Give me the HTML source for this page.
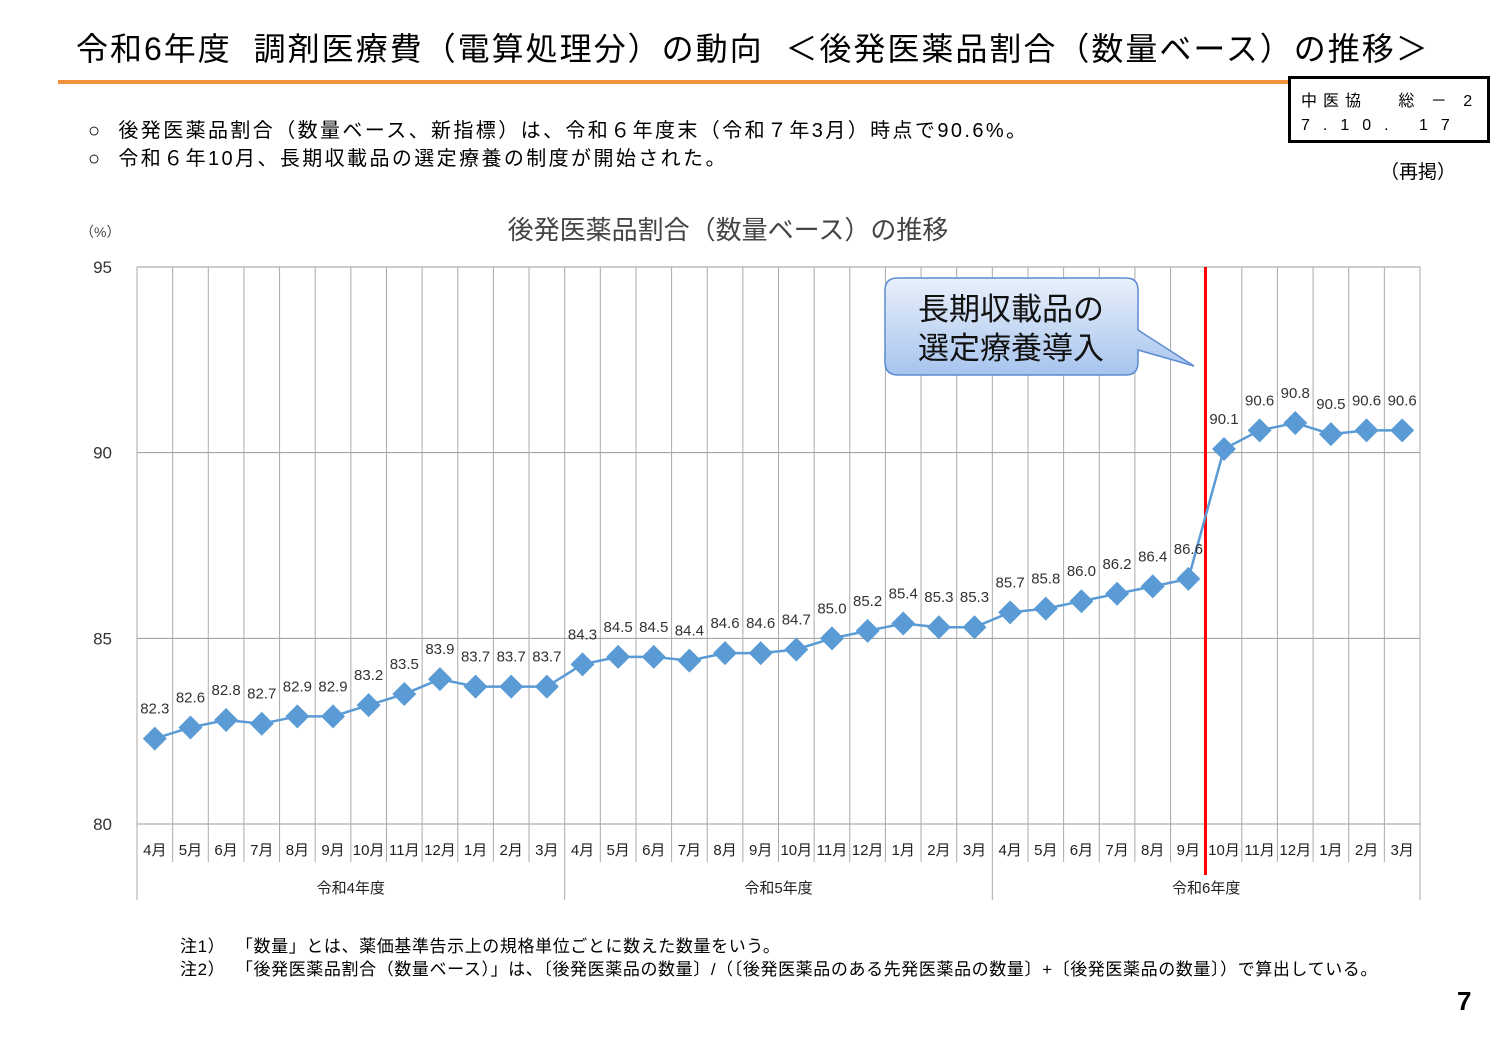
<!DOCTYPE html>
<html><head><meta charset="utf-8"><style>
body{margin:0;width:1499px;height:1038px;background:#fff;font-family:"Liberation Sans","Noto Sans CJK JP",sans-serif;position:relative;overflow:hidden}
.a{position:absolute;white-space:nowrap;color:#000}
</style></head><body>
<div class="a" style="left:76px;top:24px;font-size:32px;letter-spacing:2px">令和6年度&nbsp; 調剤医療費（電算処理分）の動向&nbsp; ＜後発医薬品割合（数量ベース）の推移＞</div>
<div class="a" style="left:58px;top:80px;width:1230px;height:4px;background:#f0923b"></div>
<div class="a" style="left:1288px;top:76px;width:196px;height:61px;border:3px solid #000;font-size:16px;">
<div class="a" style="left:10px;top:8px;letter-spacing:6px">中医協&nbsp;&nbsp;&nbsp;総&nbsp;－&nbsp;2</div>
<div class="a" style="left:10px;top:38px;letter-spacing:13px">7.10.&nbsp;17</div></div>
<div class="a" style="left:1380px;top:157px;font-size:19px;">（再掲）</div>
<div class="a" style="left:88px;top:114px;font-size:20px;letter-spacing:2.4px">○&nbsp; 後発医薬品割合（数量ベース、新指標）は、令和６年度末（令和７年3月）時点で90.6%。</div>
<div class="a" style="left:88px;top:142px;font-size:20px;letter-spacing:2.4px">○&nbsp; 令和６年10月、長期収載品の選定療養の制度が開始された。</div>
<div class="a" style="left:180px;top:932px;font-size:17px;letter-spacing:0.6px">注1）&nbsp; 「数量」とは、薬価基準告示上の規格単位ごとに数えた数量をいう。</div>
<div class="a" style="left:180px;top:955px;font-size:17px;letter-spacing:0.6px">注2）&nbsp; 「後発医薬品割合（数量ベース）」は、〔後発医薬品の数量〕/（〔後発医薬品のある先発医薬品の数量〕+〔後発医薬品の数量〕）で算出している。</div>
<div class="a" style="left:1457px;top:986px;font-size:26px;font-weight:bold">7</div>
<svg id="s" width="1499" height="1038" style="position:absolute;left:0;top:0" xmlns="http://www.w3.org/2000/svg" font-family="Liberation Sans, Noto Sans CJK JP, sans-serif">
<defs><linearGradient id="g" x1="0" y1="0" x2="0" y2="1"><stop offset="0" stop-color="#e9f0fb"/><stop offset="1" stop-color="#a7c4ee"/></linearGradient></defs>
<text x="728" y="239" font-size="26" text-anchor="middle" fill="#444">後発医薬品割合（数量ベース）の推移</text>
<text x="80" y="237" font-size="14" fill="#444">（%）</text>
</svg>
<script>
var s=document.getElementById('s'),h='';
var d=[82.3,82.6,82.8,82.7,82.9,82.9,83.2,83.5,83.9,83.7,83.7,83.7,84.3,84.5,84.5,84.4,84.6,84.6,84.7,85.0,85.2,85.4,85.3,85.3,85.7,85.8,86.0,86.2,86.4,86.6,90.1,90.6,90.8,90.5,90.6,90.6];
var L=137,R=1420,T=267,B=824,w=(R-L)/36;function Y(v){return B-(v-80)*(B-T)/15}
[80,85,90,95].forEach(function(v){h+='<line x1="'+L+'" x2="'+R+'" y1="'+Y(v)+'" y2="'+Y(v)+'" stroke="#999" stroke-width="1"/><text x="112" y="'+(Y(v)+6)+'" font-size="17" text-anchor="end" fill="#333">'+v+'</text>';});
var m=['4月','5月','6月','7月','8月','9月','10月','11月','12月','1月','2月','3月'];
for(var i=0;i<=36;i++){var x=L+i*w,ex=(i%12==0)?900:862;h+='<line x1="'+x+'" x2="'+x+'" y1="'+T+'" y2="'+ex+'" stroke="#aaa" stroke-width="1"/>';}
for(var i=0;i<36;i++){h+='<text x="'+(L+(i+.5)*w)+'" y="855" font-size="15" text-anchor="middle" fill="#222">'+m[i%12]+'</text>';}
['令和4年度','令和5年度','令和6年度'].forEach(function(t,k){h+='<text x="'+(L+(k*12+6)*w)+'" y="893" font-size="15" text-anchor="middle" fill="#222">'+t+'</text>';});
var p=d.map(function(v,i){return (L+(i+.5)*w)+','+Y(v)}).join(' ');
h+='<line x1="1205.5" x2="1205.5" y1="267" y2="875" stroke="#f00" stroke-width="3"/>';
h+='<polyline points="'+p+'" fill="none" stroke="#5b9bd5" stroke-width="2.5"/>';
d.forEach(function(v,i){var x=L+(i+.5)*w,y=Y(v);h+='<polygon points="'+x+','+(y-12)+' '+(x+12)+','+y+' '+x+','+(y+12)+' '+(x-12)+','+y+'" fill="#5b9bd5"/><text x="'+x+'" y="'+(y-25)+'" font-size="15" text-anchor="middle" fill="#333">'+v.toFixed(1)+'</text>';});
h+='<path d="M898,278 H1126 Q1138,278 1138,290 V330 L1194,366 L1138,350 V362 Q1138,375 1126,375 H898 Q885,375 885,362 V290 Q885,278 898,278 Z" fill="url(#g)" stroke="#5b8bd0" stroke-width="1.5"/>';
h+='<text x="1011" y="320" font-size="31" text-anchor="middle" fill="#111">長期収載品の</text><text x="1011" y="359" font-size="31" text-anchor="middle" fill="#111">選定療養導入</text>';
s.insertAdjacentHTML('beforeend',h);
</script>
</body></html>
